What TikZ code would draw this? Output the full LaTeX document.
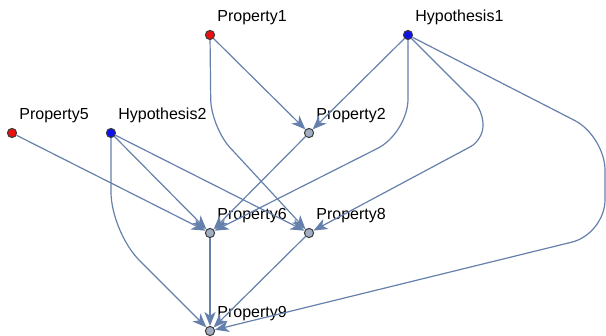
\documentclass[tikz,border=0pt]{standalone}
\usepackage{fontspec}
\setmainfont{Liberation Sans}
\usetikzlibrary{arrows.meta}

\definecolor{edgeblue}{RGB}{102,128,172}
\definecolor{vgray}{RGB}{160,174,196}
\definecolor{vred}{RGB}{235,16,16}
\definecolor{vblue}{RGB}{16,16,235}

\tikzset{
  vertex/.style={circle,draw={rgb,255:red,60;green,60;blue,60},line width=0.5pt,
    inner sep=0pt,minimum size=4.6pt,fill=vgray},
  lbl/.style={anchor=base west,inner sep=0pt,font=\fontsize{8}{9.6}\selectfont},
  edge/.style={draw=edgeblue,line width=0.6pt,
    -{Stealth[length=7pt,width=5.6pt,inset=2pt,fill=edgeblue]}}
}

\begin{document}
\begin{tikzpicture}[x=0.5pt,y=-0.5pt]
\useasboundingbox (0,0) rectangle (606,336);

% vertices
\node[vertex,fill=vred] (p1) at (210,35) {};
\node[vertex,fill=vblue] (h1) at (408,35) {};
\node[vertex,fill=vred] (p5) at (12,133) {};
\node[vertex,fill=vblue] (h2) at (111,133) {};
\node[vertex] (p2) at (309,133) {};
\node[vertex] (p6) at (210,233) {};
\node[vertex] (p8) at (309,233) {};
\node[vertex] (p9) at (210,331) {};

% names
\node[lbl] (p1txt) at (217,22) {Property1};
\node[lbl] (h1txt) at (415,22) {Hypothesis1};
\node[lbl] (p5txt) at (19,120) {Property5};
\node[lbl] (h2txt) at (118,120) {Hypothesis2};
\node[lbl] (p2txt) at (316,120) {Property2};
\node[lbl] (p6txt) at (217,220) {Property6};
\node[lbl] (p8txt) at (316,220) {Property8};
\node[lbl] (p9txt) at (217,318) {Property9};

% straight edges
\draw[edge] (p1) -- (p2);
\draw[edge] (h1) -- (p2);
\draw[edge] (p5) -- (p6);
\draw[edge] (h2) -- (p6);
\draw[edge] (h2) -- (p8);
\draw[edge] (p2) -- (p6);
\draw[edge] (p6) -- (p9);
\draw[edge] (p8) -- (p9);

% bent edges (radius in pt, half the pixel size)
\draw[edge,rounded corners=14pt] (p1) -- (211,127) -- (p8);
\draw[edge,rounded corners=20pt] (h2) -- (111,232) -- (p9);
\draw[edge,rounded corners=17pt] (h1) -- (408,133) -- (p6);
\draw[edge,rounded corners=7pt] (h1) -- (483,110) -- (483,140) -- (p8);
\draw[edge,rounded corners=17pt] (h1) -- (605,136) -- (605,234) -- (p9);

\end{tikzpicture}
\end{document}
